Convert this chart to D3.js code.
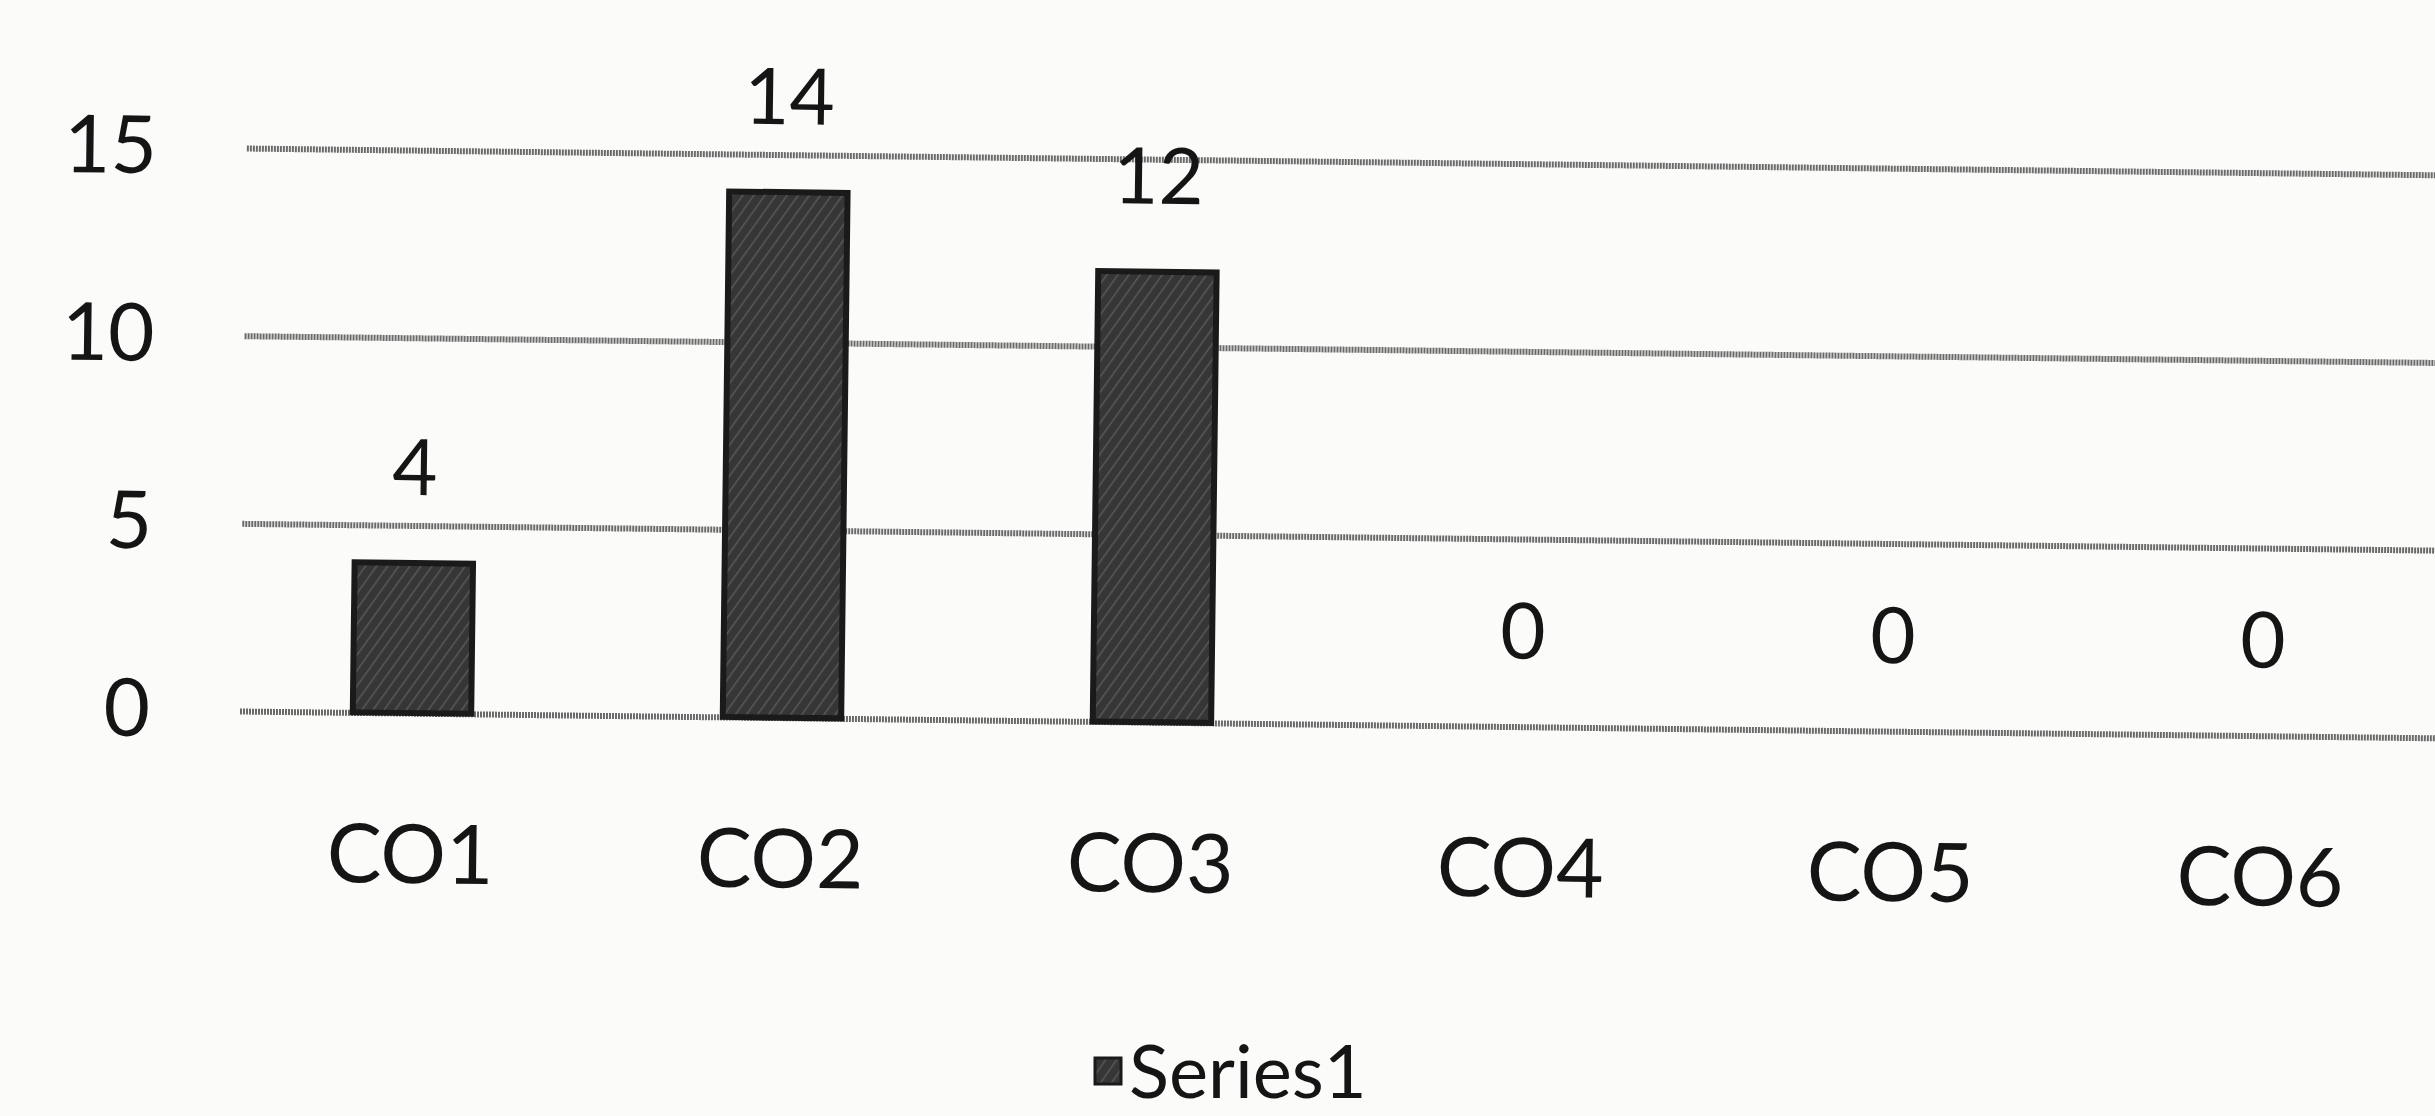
<!DOCTYPE html>
<html>
<head>
<meta charset="utf-8">
<script src="https://cdn.jsdelivr.net/npm/d3@7"></script>
<style>
  html, body { margin: 0; padding: 0; background: #fbfbfa; }
  svg { display: block; }
  text { font-family: Lato, "Open Sans", sans-serif; fill: #151515; }
</style>
</head>
<body>
<div class="chart"></div>
<script>
// data
const categories = ["CO1", "CO2", "CO3", "CO4", "CO5", "CO6"];
const values = [4, 14, 12, 0, 0, 0];
const yTicks = [0, 5, 10, 15];
const seriesName = "Series1";

const W = 2435, H = 1116;
const margin = {top: 148, left: 240, right: 0, bottom: 405};

const svg = d3.select(".chart").append("svg")
  .attr("width", W)
  .attr("height", H);

// hatched dark fill like the printed bars
const defs = svg.append("defs");
const pat = defs.append("pattern")
  .attr("id", "hatch")
  .attr("patternUnits", "userSpaceOnUse")
  .attr("width", 9).attr("height", 9)
  .attr("patternTransform", "rotate(35)");
pat.append("rect").attr("width", 9).attr("height", 9).attr("fill", "#363636");
pat.append("line").attr("x1", 0).attr("y1", 0).attr("x2", 0).attr("y2", 9)
  .attr("stroke", "#585858").attr("stroke-width", 3);

// photo of the page is tilted a little
const plot = svg.append("g")
  .attr("transform", `rotate(0.7, ${margin.left}, ${H - margin.bottom})`);

const x = d3.scaleBand()
  .domain(categories)
  .range([227, 227 + 6 * 370])
  .paddingInner(0.68)
  .paddingOuter(0.34);

const y = d3.scaleLinear()
  .domain([0, 15])
  .range([H - margin.bottom, margin.top]);

// gridlines + tick labels
const yAxis = plot.append("g")
  .attr("transform", `translate(${margin.left},0)`)
  .call(d3.axisLeft(y).tickValues(yTicks).tickSize(-(W - margin.left)).tickPadding(90));
yAxis.select(".domain").remove();
yAxis.selectAll(".tick line")
  .attr("stroke", "#6a6a6a")
  .attr("stroke-width", 6)
  .attr("stroke-dasharray", "2,1");
yAxis.selectAll(".tick text")
  .attr("font-size", 80)
  .attr("fill", "#151515")
  .attr("font-family", "Lato, 'Open Sans', sans-serif");

// bars
plot.selectAll("rect.bar")
  .data(values.map((v, i) => ({label: categories[i], value: v})).filter(d => d.value > 0))
  .enter()
  .append("rect")
  .attr("class", "bar")
  .attr("x", d => x(d.label))
  .attr("y", d => y(d.value))
  .attr("width", x.bandwidth())
  .attr("height", d => y(0) - y(d.value))
  .attr("fill", "url(#hatch)")
  .attr("stroke", "#1a1a1a")
  .attr("stroke-width", 6);

// value labels
plot.selectAll("text.val")
  .data(values.map((v, i) => ({label: categories[i], value: v})))
  .enter()
  .append("text")
  .attr("class", "val")
  .attr("x", d => x(d.label) + x.bandwidth() / 2)
  .attr("y", d => y(d.value) - 68)
  .attr("text-anchor", "middle")
  .attr("font-size", 78)
  .text(d => d.value);

// category labels
plot.selectAll("text.cat")
  .data(categories)
  .enter()
  .append("text")
  .attr("class", "cat")
  .attr("x", d => x(d) + x.bandwidth() / 2)
  .attr("y", y(0) + 170)
  .attr("text-anchor", "middle")
  .attr("font-size", 82)
  .text(d => d);

// legend
const legend = svg.append("g").attr("transform", "translate(1095,1058)");
legend.append("rect")
  .attr("width", 26).attr("height", 26)
  .attr("fill", "url(#hatch)")
  .attr("stroke", "#1a1a1a").attr("stroke-width", 3);
legend.append("text")
  .attr("x", 34).attr("y", 40)
  .attr("font-size", 74)
  .text(seriesName);
</script>
</body>
</html>
